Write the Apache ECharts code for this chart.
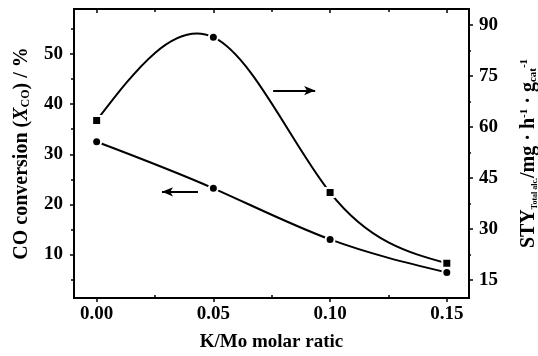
<!DOCTYPE html>
<html>
<head>
<meta charset="utf-8">
<script src="https://cdn.jsdelivr.net/npm/echarts@6/dist/echarts.min.js"></script>
<style>
  html, body { margin: 0; padding: 0; background: #fff; }
  #chart { width: 538px; height: 356px; }
</style>
</head>
<body>
<div id="chart"></div>
<script>
// K/Mo 摩尔比
const ratio = [0, 0.05, 0.10, 0.15]
// CO 转化率 (%)
const conversion = [32.5, 23.2, 13.0, 6.4]
// 总醇时空收率 STY
const sty = [61.9, 86.4, 40.7, 19.9]

// 刻度
const xTicks = [0, 0.05, 0.10, 0.15]
const xMinorTicks = [0.025, 0.075, 0.125]
const leftTicks = [10, 20, 30, 40, 50]
const leftMinorTicks = [5, 15, 25, 35, 45, 55]
const rightTicks = [15, 30, 45, 60, 75, 90]
const rightMinorTicks = [22.5, 37.5, 52.5, 67.5, 82.5]

const font = 'Liberation Serif'
const black = '#000'

const xRange = { min: -0.0097, max: 0.1595 }
const leftRange = { min: 1.3, max: 59 }
const rightRange = { min: 9.7, max: 94.7 }

const textStyle = { fontFamily: font, fontWeight: 'bold', fontSize: 19, color: black }

// 自然三次样条：求各数据点处的斜率
const splineSlopes = (xs, ys) => {
  const n = xs.length
  const h = []
  const m = new Array(n).fill(0)
  for (let i = 0; i < n - 1; i++) h.push(xs[i + 1] - xs[i])
  const a = [], b = [], c = [], d = []
  for (let i = 1; i < n - 1; i++) {
    a.push(h[i - 1])
    b.push(2 * (h[i - 1] + h[i]))
    c.push(h[i])
    d.push(6 * ((ys[i + 1] - ys[i]) / h[i] - (ys[i] - ys[i - 1]) / h[i - 1]))
  }
  for (let i = 1; i < b.length; i++) {
    const w = a[i] / b[i - 1]
    b[i] -= w * c[i - 1]
    d[i] -= w * d[i - 1]
  }
  for (let i = b.length - 1; i >= 0; i--) m[i + 1] = (d[i] - c[i] * m[i + 2]) / b[i]
  const s = []
  for (let i = 0; i < n - 1; i++) s.push((ys[i + 1] - ys[i]) / h[i] - (h[i] * (2 * m[i] + m[i + 1])) / 6)
  s.push((ys[n - 1] - ys[n - 2]) / h[n - 2] + (h[n - 2] * (m[n - 2] + 2 * m[n - 1])) / 6)
  return s
}

// 用贝塞尔段画样条曲线
const splineRender = (xs, ys) => {
  const s = splineSlopes(xs, ys)
  return (params, api) => {
    const i = params.dataIndex
    if (i >= xs.length - 1) return null
    const h = xs[i + 1] - xs[i]
    const p0 = api.coord([xs[i], ys[i]])
    const p1 = api.coord([xs[i + 1], ys[i + 1]])
    const c0 = api.coord([xs[i] + h / 3, ys[i] + (s[i] * h) / 3])
    const c1 = api.coord([xs[i + 1] - h / 3, ys[i + 1] - (s[i + 1] * h) / 3])
    return {
      type: 'bezierCurve',
      shape: { x1: p0[0], y1: p0[1], x2: p1[0], y2: p1[1], cpx1: c0[0], cpy1: c0[1], cpx2: c1[0], cpy2: c1[1] },
      style: { stroke: black, lineWidth: 2, fill: 'none' }
    }
  }
}

// 只画刻度的辅助轴
const tickAxis = (range, position, values, length, inside) => ({
  type: 'value',
  position,
  ...range,
  axisLine: { show: false, onZero: false },
  axisTick: { show: true, customValues: values, length, inside, lineStyle: { color: black, width: 1.5 } },
  axisLabel: { show: false },
  splitLine: { show: false }
})

const arrowLine = (from, to) => ({
  silent: true,
  symbol: ['none', 'arrow'],
  symbolSize: [7, 11],
  label: { show: false },
  lineStyle: { color: black, width: 2, type: 'solid' },
  data: [[{ coord: from }, { coord: to }]]
})

const convData = ratio.map((x, i) => [x, conversion[i]])
const styData = ratio.map((x, i) => [x, sty[i]])

const myEcharts = echarts.init(document.getElementById('chart'))
myEcharts.setOption({
  animation: false,
  backgroundColor: '#fff',
  grid: {
    left: 74,
    right: 69,
    top: 9,
    bottom: 58,
    outerBoundsMode: 'none',
    containLabel: false,
    show: true,
    borderColor: black,
    borderWidth: 2
  },
  xAxis: [
    {
      type: 'value',
      position: 'bottom',
      ...xRange,
      name: 'K/Mo molar ratic',
      nameLocation: 'middle',
      nameGap: 35,
      nameTextStyle: textStyle,
      axisLine: { show: false, onZero: false },
      axisTick: { show: true, customValues: xTicks, length: 4, lineStyle: { color: black, width: 1.5 } },
      axisLabel: { ...textStyle, customValues: xTicks, margin: 7, formatter: v => v.toFixed(2) },
      splitLine: { show: false }
    },
    tickAxis(xRange, 'bottom', xMinorTicks, 3, true),
    tickAxis(xRange, 'top', xTicks, 4, true),
    tickAxis(xRange, 'top', xMinorTicks, 3, true)
  ],
  yAxis: [
    {
      type: 'value',
      position: 'left',
      ...leftRange,
      name: 'CO conversion ({x|X}{sub|CO}) / %',
      nameLocation: 'middle',
      nameGap: 42,
      nameTextStyle: {
        ...textStyle,
        fontSize: 20,
        rich: {
          x: { fontFamily: font, fontWeight: 'bold', fontStyle: 'italic', fontSize: 20, color: black },
          sub: { fontFamily: font, fontWeight: 'bold', fontSize: 12, color: black, verticalAlign: 'bottom' }
        }
      },
      axisLine: { show: false, onZero: false },
      axisTick: { show: true, customValues: leftTicks, length: 4, lineStyle: { color: black, width: 1.5 } },
      axisLabel: { ...textStyle, customValues: leftTicks, margin: 11 },
      splitLine: { show: false }
    },
    tickAxis(leftRange, 'left', leftMinorTicks, 3, false),
    {
      type: 'value',
      position: 'right',
      ...rightRange,
      name: 'STY{tot|Total alc.}/mg · h{sup|-1} · g{sub|cat}{sup|-1}',
      nameLocation: 'middle',
      nameGap: 50,
      nameTextStyle: {
        ...textStyle,
        fontSize: 20,
        rich: {
          tot: { fontFamily: font, fontWeight: 'bold', fontSize: 8, color: black, verticalAlign: 'bottom' },
          sub: { fontFamily: font, fontWeight: 'bold', fontSize: 11, color: black, verticalAlign: 'bottom' },
          sup: { fontFamily: font, fontWeight: 'bold', fontSize: 11, color: black, verticalAlign: 'top' }
        }
      },
      axisLine: { show: false, onZero: false },
      axisTick: { show: true, customValues: rightTicks, length: 4, lineStyle: { color: black, width: 1.5 } },
      axisLabel: { ...textStyle, customValues: rightTicks, margin: 10 },
      splitLine: { show: false }
    },
    tickAxis(rightRange, 'right', rightMinorTicks, 2, false)
  ],
  series: [
    {
      name: 'CO conversion curve',
      type: 'custom',
      xAxisIndex: 0,
      yAxisIndex: 0,
      renderItem: splineRender(ratio, conversion),
      data: convData,
      encode: { x: 0, y: 1 },
      z: 2
    },
    {
      name: 'STY curve',
      type: 'custom',
      xAxisIndex: 0,
      yAxisIndex: 2,
      renderItem: splineRender(ratio, sty),
      data: styData,
      encode: { x: 0, y: 1 },
      z: 2
    },
    {
      name: 'CO conversion',
      type: 'scatter',
      xAxisIndex: 0,
      yAxisIndex: 0,
      data: convData,
      symbol: 'circle',
      symbolSize: 9,
      itemStyle: { color: black, borderColor: '#fff', borderWidth: 2, opacity: 1 },
      markLine: arrowLine([0.0434, 22.5], [0.028, 22.5]),
      z: 3
    },
    {
      name: 'STY',
      type: 'scatter',
      xAxisIndex: 0,
      yAxisIndex: 2,
      data: styData,
      symbol: (value, params) => (params.dataIndex === 1 ? 'circle' : 'rect'),
      symbolSize: 9,
      itemStyle: { color: black, borderColor: '#fff', borderWidth: 2, opacity: 1 },
      markLine: arrowLine([0.0756, 70.7], [0.0936, 70.7]),
      z: 3
    }
  ]
})
window.addEventListener('resize', () => {
  myEcharts.resize()
})
</script>
</body>
</html>
